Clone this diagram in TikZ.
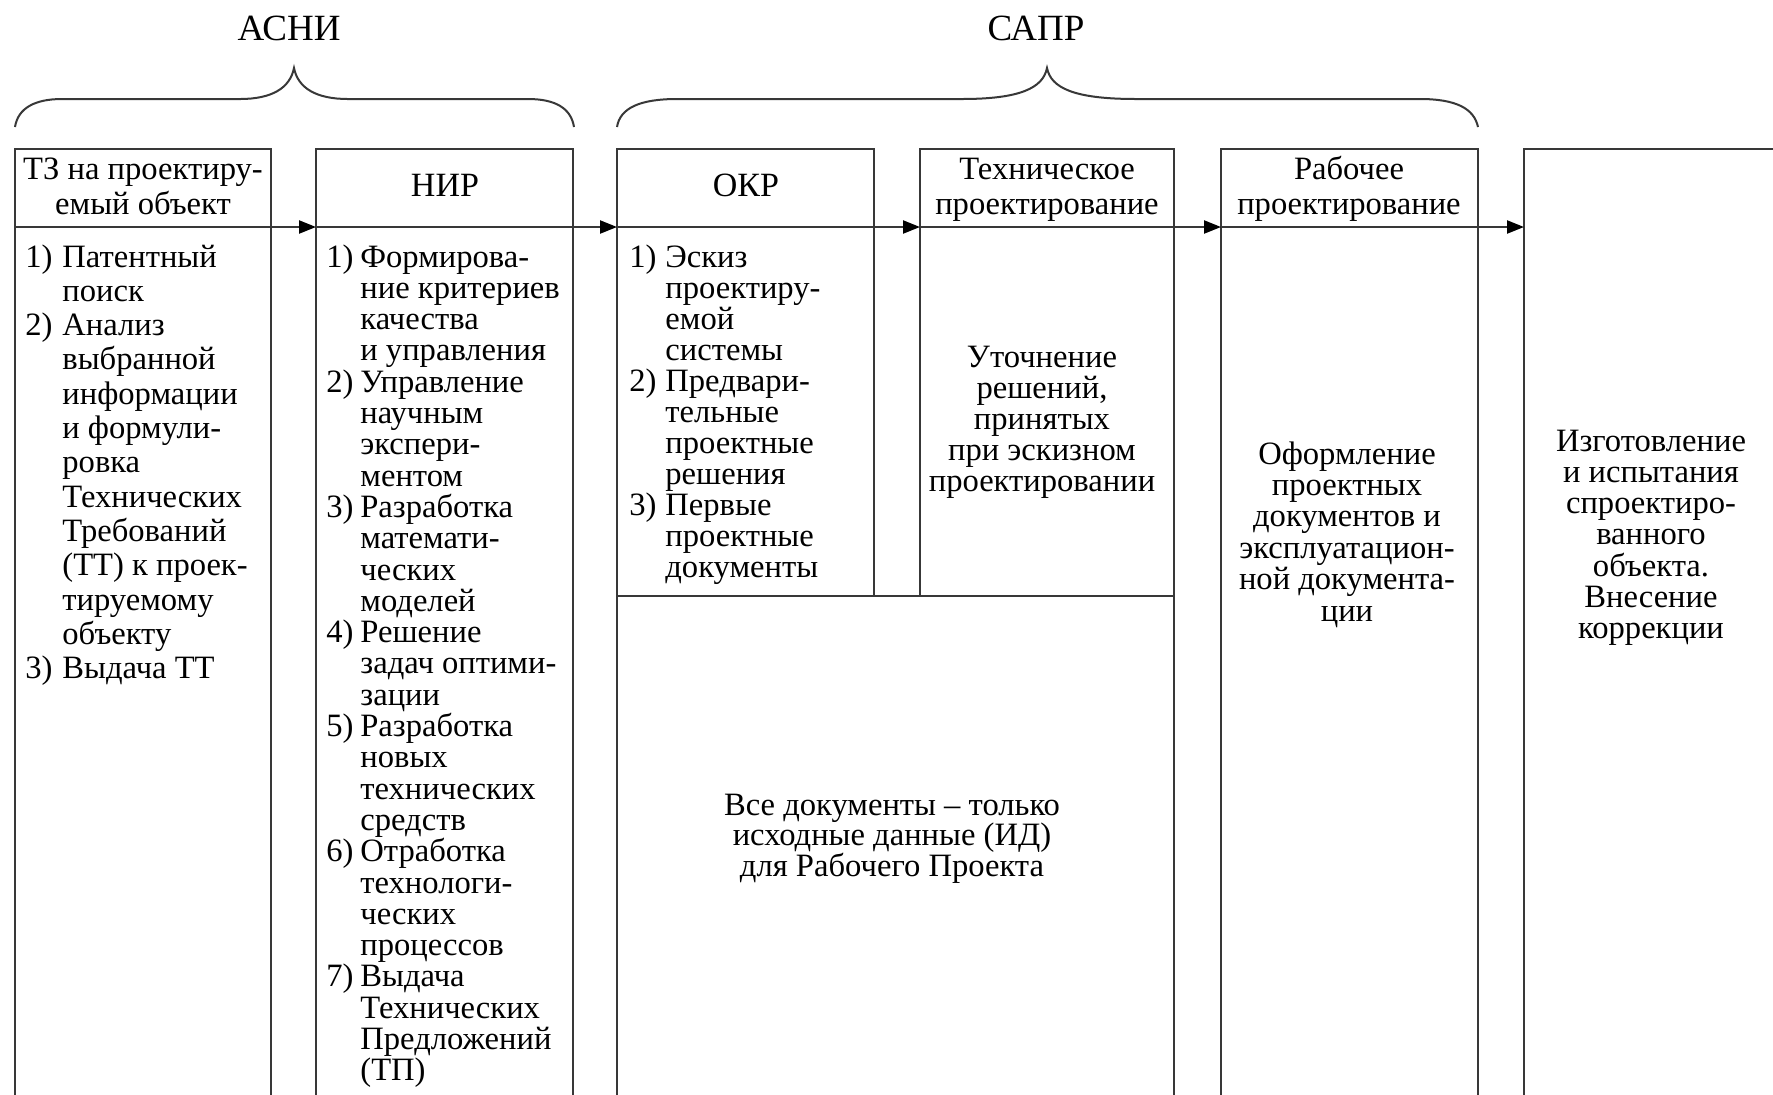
\documentclass[tikz,border=0pt]{standalone}
\usepackage{fontspec}
\setmainfont{Liberation Serif}
\usetikzlibrary{arrows.meta}
\newlength\hgi
\newcommand\itm[2]{\par\hangindent=\hgi\hangafter=1\noindent\hbox to\hgi{#1\hfil}#2}
\newcommand\lst[3]{\vtop{\hsize=200pt\parindent=0pt\parskip=0pt\hgi=#1\relax\fontsize{16.3}{#2}\selectfont #3\par}}
\newcommand\ctr[3]{\vtop{\hsize=#1\parindent=0pt\parskip=0pt\centering\fontsize{16.3}{#2}\selectfont #3\par}}
\begin{document}
\begin{tikzpicture}[x=0.5pt,y=-0.5pt,
  box/.style={draw=black!78, line width=1.15pt, rectangle, inner sep=0pt, outer sep=0pt},
  ln/.style={draw=black!78, line width=1.15pt},
  arr/.style={draw=black!78, line width=1.15pt, -{Triangle[length=8.5pt,width=6.5pt,fill=black,color=black]}},
  brace/.style={draw=black!78, line width=1pt},
  txt/.style={inner sep=0pt, text=black},
  ttl/.style={inner sep=0pt, text=black, font=\fontsize{18.5}{20}\selectfont, anchor=base},
  hdr/.style={inner sep=0pt, text=black, font=\fontsize{17}{18}\selectfont, anchor=base}]
\useasboundingbox (0,0) rectangle (1773,1094);
\fill[white] (0,0) rectangle (1773,1094);

% boxes
\node[box, minimum width=128pt, minimum height=480.5pt] (b1) at (143,629.5) {};
\node[box, minimum width=128.5pt, minimum height=480.5pt] (b2) at (444.5,629.5) {};
\node[box, minimum width=128.5pt, minimum height=223.5pt] (b3) at (745.5,372.5) {};
\node[box, minimum width=127pt, minimum height=223.5pt] (b4) at (1047,372.5) {};
\node[box, minimum width=278.5pt, minimum height=257pt] (b34) at (895.5,853) {};
\node[box, minimum width=128.5pt, minimum height=480.5pt] (b5) at (1349.5,629.5) {};
\node[box, minimum width=133pt, minimum height=480.5pt] (b6) at (1657,629.5) {};

% flow line
\coordinate (hl) at (0,227);
\draw[ln] (b1.west|-hl) -- (b1.east|-hl);
\draw[arr] (b1.east|-hl) -- (b2.west|-hl);
\draw[ln] (b2.west|-hl) -- (b2.east|-hl);
\draw[arr] (b2.east|-hl) -- (b3.west|-hl);
\draw[ln] (b3.west|-hl) -- (b3.east|-hl);
\draw[arr] (b3.east|-hl) -- (b4.west|-hl);
\draw[ln] (b4.west|-hl) -- (b4.east|-hl);
\draw[arr] (b4.east|-hl) -- (b5.west|-hl);
\draw[ln] (b5.west|-hl) -- (b5.east|-hl);
\draw[arr] (b5.east|-hl) -- (b6.west|-hl);

% braces
\draw[brace] (15,127) .. controls (18,108) and (35,99) .. (62,99) -- (240,99)
  .. controls (272,99) and (290,88) .. (294,68)
  .. controls (298,88) and (316,99) .. (348,99) -- (528,99)
  .. controls (555,99) and (571,108) .. (574,127);
\draw[brace] (617,127) .. controls (620,108) and (640,99) .. (677,99) -- (962,99)
  .. controls (1020,99) and (1043,88) .. (1047,68)
  .. controls (1051,88) and (1074,99) .. (1136,99) -- (1420,99)
  .. controls (1455,99) and (1474,108) .. (1478,127);
\node[ttl] (asni) at (289,40) {АСНИ};
\node[ttl] (sapr) at (1036,40) {САПР};

% headers
\node[txt, anchor=base] (h1) at (143,179) {\ctr{128pt}{17.5}{ТЗ на проектиру-\\емый объект}};
\node[hdr] (h2) at (445,196) {НИР};
\node[hdr] (h3) at (746,196) {ОКР};
\node[txt, anchor=base] (h4) at (1047,179) {\ctr{127pt}{17.5}{Техническое\\проектирование}};
\node[txt, anchor=base] (h5) at (1349,179) {\ctr{128pt}{17.5}{Рабочее\\проектирование}};

% lists
\node[txt, anchor=base west] (l1) at (25,267) {\lst{18.5pt}{17.15}{%
\itm{1)}{Патентный\\поиск}
\itm{2)}{Анализ\\выбранной\\информации\\и формули-\\ровка\\Технических\\Требований\\(ТТ) к проек-\\тируемому\\объекту}
\itm{3)}{Выдача ТТ}}};
\node[txt, anchor=base west] (l2) at (326,267) {\lst{17pt}{15.65}{%
\itm{1)}{Формирова-\\ние критериев\\качества\\и управления}
\itm{2)}{Управление\\научным\\экспери-\\ментом}
\itm{3)}{Разработка\\математи-\\ческих\\моделей}
\itm{4)}{Решение\\задач оптими-\\зации}
\itm{5)}{Разработка\\новых\\технических\\средств}
\itm{6)}{Отработка\\технологи-\\ческих\\процессов}
\itm{7)}{Выдача\\Технических\\Предложений\\(ТП)}}};
\node[txt, anchor=base west] (l3) at (629,267) {\lst{18pt}{15.5}{%
\itm{1)}{Эскиз\\проектиру-\\емой\\системы}
\itm{2)}{Предвари-\\тельные\\проектные\\решения}
\itm{3)}{Первые\\проектные\\документы}}};

% centred texts
\node[txt, anchor=base] (c4) at (1042,367) {\ctr{127pt}{15.55}{Уточнение\\решений,\\принятых\\при эскизном\\проектировании}};
\node[txt, anchor=base] (c5) at (1347,464) {\ctr{128pt}{15.7}{Оформление\\проектных\\документов и\\эксплуатацион-\\ной документа-\\ции}};
\node[txt, anchor=base] (c6) at (1651,451) {\ctr{128pt}{15.65}{Изготовление\\и испытания\\спроектиро-\\ванного\\объекта.\\Внесение\\коррекции}};
\node[txt, anchor=base] (c34) at (892,815) {\ctr{270pt}{15.25}{Все документы – только\\исходные данные (ИД)\\для Рабочего Проекта}};
\end{tikzpicture}
\end{document}
